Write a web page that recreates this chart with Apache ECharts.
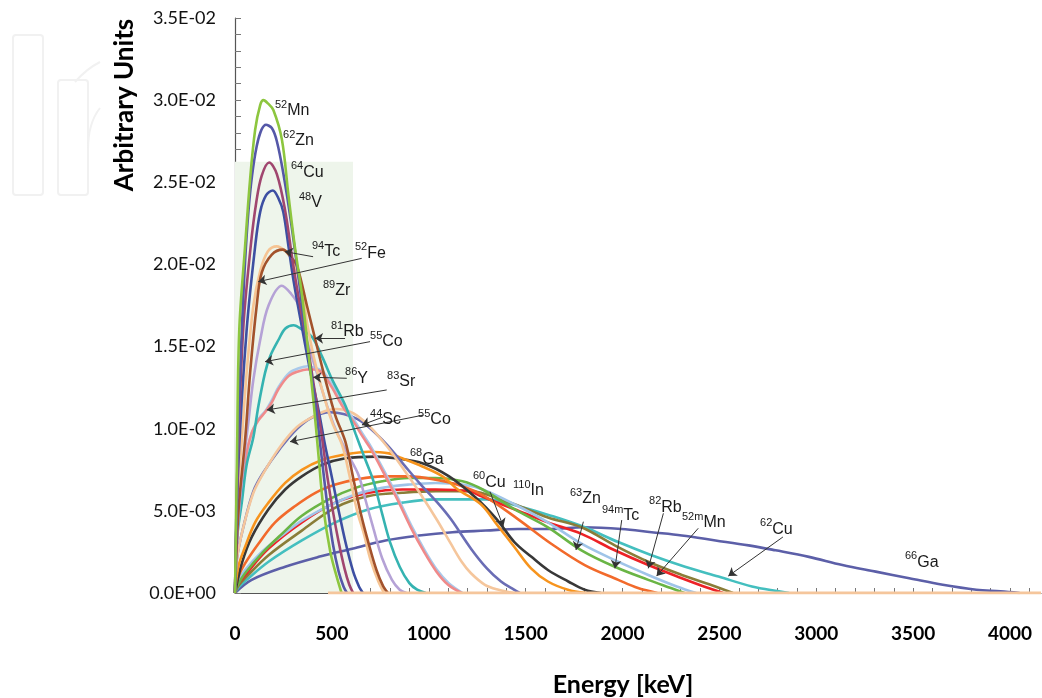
<!DOCTYPE html>
<html>
<head>
<meta charset="utf-8">
<script src="https://cdn.jsdelivr.net/npm/echarts@6/dist/echarts.min.js"></script>
<style>
html,body{margin:0;padding:0;background:#fff;}
#c{width:1042px;height:698px;}
</style>
</head>
<body>
<div id="c"></div>
<script>
// ---- tick labels ----
const xTickLabels = ['0','500','1000','1500','2000','2500','3000','3500','4000'];
const yTickLabels = ['0.0E+00','5.0E-03','1.0E-02','1.5E-02','2.0E-02','2.5E-02','3.0E-02','3.5E-02'];

// ---- spectra [energy keV, arbitrary units] ----
const mn52 = [[0,0],[10,0.008],[22,0.016],[52,0.0211],[78,0.0252],[104,0.0282],[130,0.0297],[147,0.0300],[170,0.0298],[198,0.0294],[242,0.0276],[276,0.0242],[311,0.0209],[345,0.0182],[370,0.0156],[404,0.0118],[430,0.0085],[456,0.0052],[492,0.0025],[527,0.0009],[550,0]];
const zn62 = [[0,0],[12,0.0075],[35,0.016],[69,0.0232],[112,0.0272],[160,0.0285],[190,0.0283],[216,0.0275],[250,0.0255],[290,0.0225],[330,0.0190],[370,0.0152],[410,0.0120],[445,0.0085],[475,0.0055],[505,0.0030],[535,0.0013],[560,0.0004],[578,0]];
const cu64 = [[0,0],[15,0.008],[42,0.016],[81,0.0211],[110,0.0238],[138,0.0254],[176,0.0262],[216,0.0255],[260,0.0232],[300,0.0200],[340,0.0172],[375,0.0150],[410,0.0124],[445,0.0098],[475,0.0072],[505,0.0050],[535,0.0031],[565,0.0015],[590,0.0005],[610,0]];
const v48 = [[0,0],[18,0.008],[60,0.016],[104,0.0211],[130,0.0232],[160,0.0242],[195,0.0245],[225,0.0240],[249,0.0232],[276,0.0211],[301,0.0191],[345,0.0162],[390,0.0134],[430,0.0112],[465,0.0090],[492,0.0075],[530,0.0053],[570,0.0031],[610,0.0013],[640,0.0004],[660,0]];
const tc94 = [[0,0],[12,0.0055],[35,0.0093],[60,0.0134],[95,0.0175],[130,0.0196],[170,0.0208],[216,0.0211],[260,0.0208],[294,0.0203],[345,0.0185],[371,0.0165],[406,0.0144],[449,0.0124],[501,0.0104],[553,0.0090],[590,0.0072],[630,0.0050],[663,0.0037],[700,0.0020],[740,0.0007],[770,0]];
const fe52 = [[0,0],[18,0.0050],[52,0.0093],[78,0.0134],[112,0.0175],[138,0.0195],[190,0.0206],[247,0.0209],[285,0.0205],[320,0.0199],[371,0.0175],[415,0.0154],[466,0.0130],[518,0.0108],[570,0.0092],[610,0.0070],[650,0.0048],[690,0.0030],[730,0.0014],[765,0.0004],[790,0]];
const zr89 = [[0,0],[15,0.0040],[40,0.0075],[69,0.0104],[95,0.0130],[130,0.0154],[173,0.0175],[242,0.0187],[290,0.0182],[328,0.0175],[371,0.0154],[423,0.0134],[475,0.0114],[518,0.0100],[580,0.0085],[637,0.0072],[675,0.0056],[715,0.0039],[760,0.0021],[810,0.0008],[850,0.0002],[885,0]];
const rb81 = [[0,0],[12,0.0035],[35,0.0055],[60,0.0078],[95,0.0095],[121,0.0114],[155,0.0134],[181,0.0144],[224,0.0154],[260,0.0161],[302,0.0163],[350,0.0160],[397,0.0156],[449,0.0144],[501,0.0130],[570,0.0114],[622,0.0097],[670,0.0082],[715,0.0068],[760,0.0048],[800,0.0031],[850,0.0016],[900,0.0006],[940,0.0002],[985,0]];
const sr83 = [[0,0],[10,0.0035],[32,0.0061],[57,0.0083],[88,0.0098],[122,0.0106],[158,0.0111],[193,0.0118],[228,0.0126],[280,0.0134],[333,0.0137],[375,0.0138],[414,0.0137],[452,0.0135],[504,0.0126],[556,0.0115],[616,0.0105],[663,0.0096],[702,0.0089],[771,0.0074],[841,0.0058],[910,0.0041],[979,0.0026],[1043,0.0014],[1103,0.0006],[1175,0]];
const y86 = [[0,0],[9,0.0034],[30,0.0060],[55,0.0082],[85,0.0097],[120,0.0105],[155,0.0110],[190,0.0116],[224,0.0124],[276,0.0132],[330,0.0135],[371,0.0136],[410,0.0136],[449,0.0134],[501,0.0125],[553,0.0114],[613,0.0104],[660,0.0095],[699,0.0088],[768,0.0073],[838,0.0057],[907,0.0040],[976,0.0025],[1040,0.0013],[1100,0.0005],[1170,0]];
const sc44 = [[0,0],[10,0.0021],[45,0.0041],[95,0.0062],[150,0.0074],[233,0.0088],[320,0.0100],[400,0.0107],[492,0.0110],[560,0.0109],[630,0.0106],[700,0.0100],[786,0.0090],[872,0.0078],[959,0.0066],[1045,0.0055],[1114,0.0045],[1218,0.0027],[1300,0.0015],[1373,0.0007],[1440,0.0002],[1470,0]];
const co55 = [[0,0],[9,0.0020],[43,0.0040],[95,0.0061],[147,0.0073],[233,0.0089],[320,0.0101],[406,0.01075],[470,0.0111],[527,0.0112],[580,0.0111],[630,0.0108],[699,0.0101],[786,0.0089],[872,0.0075],[959,0.0060],[1045,0.0044],[1114,0.0030],[1170,0.0019],[1218,0.0012],[1290,0.0005],[1360,0.0002],[1440,0]];
const ga68 = [[0,0],[17,0.0016],[52,0.0028],[104,0.0043],[173,0.0055],[259,0.0067],[345,0.0075],[449,0.0081],[553,0.0084],[691,0.0086],[795,0.0085],[863,0.0082],[967,0.0077],[1071,0.0071],[1150,0.0063],[1269,0.0054],[1356,0.0041],[1442,0.0028],[1528,0.0015],[1615,0.0007],[1718,0.0002],[1810,0]];
const cu60 = [[0,0],[35,0.0018],[86,0.0034],[173,0.0051],[259,0.0063],[345,0.0071],[449,0.0078],[570,0.0082],[725,0.0083],[829,0.0082],[967,0.0079],[1105,0.0071],[1243,0.0058],[1350,0.0045],[1442,0.0031],[1530,0.0022],[1615,0.0014],[1720,0.0007],[1805,0.0002],[1890,0]];
const zn63 = [[0,0],[15,0.0009],[52,0.0018],[121,0.0030],[207,0.0043],[311,0.0053],[415,0.0061],[518,0.0066],[622,0.0069],[760,0.0071],[898,0.0071],[1036,0.0069],[1174,0.0065],[1287,0.0059],[1460,0.0045],[1632,0.0030],[1805,0.0017],[1978,0.0008],[2080,0.0003],[2180,0]];
const tc94m = [[0,0],[15,0.0005],[52,0.0012],[138,0.0024],[242,0.0036],[345,0.0047],[484,0.0057],[622,0.0064],[760,0.0068],[898,0.0070],[1036,0.0070],[1174,0.0068],[1278,0.0063],[1442,0.0051],[1615,0.0040],[1788,0.0026],[1960,0.0016],[2133,0.0008],[2250,0.0003],[2320,0]];
const in110 = [[0,0],[15,0.0007],[52,0.0014],[138,0.0025],[242,0.0035],[345,0.0044],[484,0.0053],[622,0.0060],[760,0.0064],[898,0.0066],[1036,0.0067],[1174,0.0066],[1278,0.0063],[1442,0.0054],[1615,0.0043],[1788,0.0030],[1960,0.0020],[2133,0.0011],[2280,0.0004],[2380,0]];
const rb82 = [[0,0],[15,0.0005],[60,0.0012],[173,0.0027],[345,0.0043],[518,0.0055],[691,0.0061],[863,0.0063],[1036,0.0063],[1209,0.0062],[1269,0.0059],[1442,0.0051],[1615,0.0043],[1788,0.0036],[1960,0.0026],[2133,0.0017],[2306,0.0009],[2420,0.0004],[2520,0]];
const mn52m = [[0,0],[15,0.0004],[60,0.0010],[173,0.0023],[345,0.0038],[518,0.0052],[691,0.0059],[863,0.0061],[1036,0.0062],[1209,0.0062],[1269,0.0061],[1442,0.0054],[1615,0.0046],[1788,0.0040],[1960,0.0029],[2133,0.0019],[2306,0.0011],[2479,0.0004],[2570,0]];
const cu62 = [[0,0],[15,0.0003],[60,0.0008],[173,0.0019],[345,0.0032],[518,0.0043],[691,0.0051],[863,0.0055],[1036,0.0057],[1209,0.0057],[1295,0.0057],[1460,0.0053],[1632,0.0047],[1805,0.0040],[1978,0.0031],[2150,0.0023],[2323,0.0016],[2496,0.0010],[2668,0.0004],[2807,0.0001],[2860,0]];
const ga66 = [[0,0],[86,0.0008],[259,0.0016],[432,0.0022],[605,0.0027],[777,0.0032],[950,0.0035],[1123,0.0037],[1295,0.0038],[1460,0.0039],[1632,0.0039],[1800,0.0040],[1995,0.0039],[2150,0.0037],[2306,0.0035],[2480,0.0032],[2651,0.0029],[2790,0.0026],[2962,0.0022],[3135,0.0017],[3307,0.0013],[3480,0.0009],[3653,0.0005],[3826,0.0002],[3950,0.0001],[4050,0]];
const zeroTail = [[480,0],[4160,0]];

// ---- annotations (data coordinates) ----
const labelTexts = [
  ['52','Mn',[206,0.02946]],['62','Zn',[248,0.02763]],['64','Cu',[289,0.02569]],['48','V',[330,0.02386]],
  ['94','Tc',[397,0.02088]],['52','Fe',[619,0.02076]],['89','Zr',[454,0.01850]],['81','Rb',[495,0.01601]],
  ['55','Co',[697,0.01540]],['86','Y',[568,0.01315]],['83','Sr',[785,0.01296]],['44','Sc',[697,0.01065]],
  ['55','Co',[945,0.01065]],['68','Ga',[903,0.00822]],['60','Cu',[1228,0.00682]],['110','In',[1435,0.00633]],
  ['63','Zn',[1729,0.00584]],['94m','Tc',[1894,0.00481]],['82','Rb',[2137,0.00530]],['52m','Mn',[2307,0.00438]],
  ['62','Cu',[2710,0.00396]],['66','Ga',[3458,0.00195]]
];
const arrowLines = [
  [[403,0.02047],[257,0.02078]],[[654,0.02037],[120,0.01895]],[[568,0.0155],[413,0.0155]],
  [[697,0.0153],[155,0.01408]],[[577,0.01307],[404,0.01313]],[[783,0.01236],[164,0.01114]],
  [[764,0.01071],[655,0.01023]],[[972,0.01083],[284,0.00921]],[[1316,0.00617],[1385,0.00404]],
  [[1798,0.00434],[1760,0.00262]],[[1996,0.00444],[1961,0.0015]],[[2211,0.00485],[2133,0.0015]],
  [[2391,0.00394],[2176,0.00103]],[[2828,0.00341],[2546,0.00103]]
];
const shadedRegion = [[0,0],[609,0.02625]];

const curves = [
  ['66Ga', ga66, '#5c5fa8'],
  ['62Cu', cu62, '#44bfbf'],
  ['52mMn', mn52m, '#8a7d38'],
  ['82Rb', rb82, '#ed2226'],
  ['110In', in110, '#9fc4e8'],
  ['94mTc', tc94m, '#6ab545'],
  ['63Zn', zn63, '#f26a2b'],
  ['60Cu', cu60, '#383838'],
  ['68Ga', ga68, '#f7941d'],
  ['44Sc', sc44, '#6a6db5'],
  ['55Co', co55, '#f5c69c'],
  ['83Sr', sr83, '#a9c9ea'],
  ['86Y', y86, '#f08a8a'],
  ['81Rb', rb81, '#35b3b1'],
  ['89Zr', zr89, '#b5a2d6'],
  ['94Tc', tc94, '#f6c493'],
  ['52Fe', fe52, '#a3522b'],
  ['48V', v48, '#3d4fa2'],
  ['64Cu', cu64, '#a0466f'],
  ['62Zn', zn62, '#5558a8'],
  ['52Mn', mn52, '#8dc63f']
];

const chart = echarts.init(document.getElementById('c'), null, {renderer:'canvas'});
const FONT = 'Lato, "Open Sans", sans-serif';
const LFONT = '"Liberation Sans", Arial, sans-serif';

const series = curves.map(function(c){
  return {
    name: c[0], type: 'line', data: c[1], showSymbol: false, smooth: 0.35,
    lineStyle: {color: c[2], width: 2.6}, itemStyle: {color: c[2]}, z: 3, silent: true
  };
});
series.unshift({
  name: 'shade', type: 'line', data: [], silent: true,
  markArea: {silent: true, itemStyle: {color: '#eef5eb'}, data: [[{coord: shadedRegion[0]}, {coord: shadedRegion[1]}]]}
});
series.push({
  name: 'zeroTail', type: 'line', data: zeroTail, showSymbol: false, silent: true,
  lineStyle: {color: '#f5c69c', width: 3}, z: 4,
  markLine: {
    silent: true, symbol: ['none','arrow'], symbolSize: 8, label: {show: false},
    lineStyle: {color: '#333', width: 1, type: 'solid'},
    data: arrowLines.map(function(a){ return [{coord: a[0]}, {coord: a[1]}]; })
  }
});

chart.setOption({
  animation: false,
  backgroundColor: '#fff',
  grid: {left: 235, right: 1, top: 18, bottom: 105},
  xAxis: {
    type: 'value', min: 0, max: 4160, interval: 100,
    axisLine: {lineStyle: {color: '#555', width: 1.2}},
    axisTick: {inside: true, length: 5, lineStyle: {color: '#777'}},
    splitLine: {show: false},
    axisLabel: {
      margin: 31, fontFamily: FONT, fontWeight: 'bold', fontSize: 19, color: '#000', showMaxLabel: false,
      formatter: function(v){ return (v % 500 === 0) ? xTickLabels[v/500] : ''; }
    }
  },
  yAxis: {
    type: 'value', min: 0, max: 0.035, interval: 0.001,
    axisLine: {show: true, lineStyle: {color: '#555', width: 1.2}},
    axisTick: {show: true, inside: true, length: 6, lineStyle: {color: '#777'}},
    splitLine: {show: false},
    axisLabel: {
      margin: 19, fontFamily: FONT, fontSize: 18, color: '#111',
      formatter: function(v){ const k = Math.round(v*1000); return (k % 5 === 0) ? yTickLabels[k/5] : ''; }
    }
  },
  series: series
});

// watermark + titles + isotope labels
const wm = {fill:'none', stroke:'#f1f1f1', lineWidth:2};
const graphics = [
  {type:'rect', shape:{x:13,y:35,width:30,height:160,r:3}, style:wm, z:0},
  {type:'rect', shape:{x:58,y:80,width:30,height:115,r:3}, style:wm, z:0},
  {type:'bezierCurve', shape:{x1:75,y1:82,x2:100,y2:62,cpx1:82,cpy1:74,cpx2:90,cpy2:67}, style:wm, z:0},
  {type:'bezierCurve', shape:{x1:88,y1:150,x2:100,y2:108,cpx1:88,cpy1:132,cpx2:92,cpy2:118}, style:wm, z:0},
  {type:'text', x:125, y:105, rotation:Math.PI/2, style:{text:'Arbitrary Units', font:'bold 26px ' + FONT, fill:'#000', align:'center', verticalAlign:'middle'}, z:10},
  {type:'text', x:623, y:685, style:{text:'Energy [keV]', font:'bold 25px ' + FONT, fill:'#000', align:'center', verticalAlign:'middle'}, z:10}
];
labelTexts.forEach(function(l){
  const p = chart.convertToPixel({gridIndex: 0}, l[2]);
  graphics.push({
    type: 'text', x: p[0], y: p[1], z: 20,
    style: {
      text: '{s|' + l[0] + '}{m|' + l[1] + '}', align: 'left', verticalAlign: 'middle',
      rich: {
        s: {fontSize: 11, fontFamily: LFONT, fill: '#1a1a1a', lineHeight: 20, verticalAlign: 'top'},
        m: {fontSize: 16, fontFamily: LFONT, fill: '#1a1a1a', lineHeight: 20, verticalAlign: 'bottom'}
      }
    }
  });
});
chart.setOption({graphic: graphics});
</script>
</body>
</html>
